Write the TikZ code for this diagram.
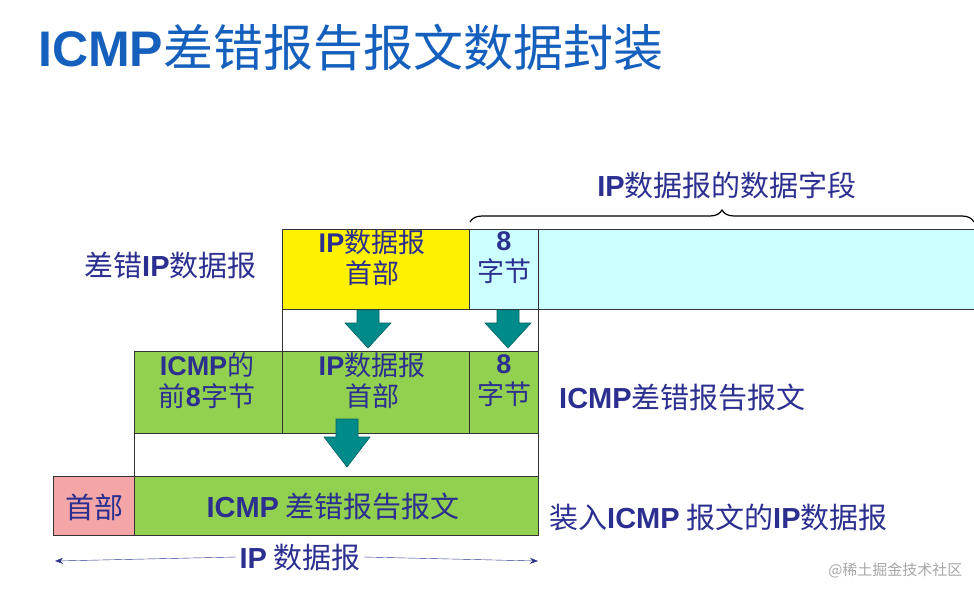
\documentclass[tikz,border=0pt]{standalone}
\usepackage{fontspec}
\setmainfont{Noto Sans CJK SC}
\newfontfamily\lat{Liberation Sans}
\newcommand\B[1]{{\lat\bfseries #1}}
\usetikzlibrary{decorations.pathreplacing,arrows.meta}
\definecolor{navy}{HTML}{2B2F8F}
\definecolor{titleblue}{HTML}{1560BD}
\definecolor{ygreen}{HTML}{92D050}
\definecolor{lcyan}{HTML}{CCFFFF}
\definecolor{pinkc}{HTML}{F4A6A6}
\definecolor{tealc}{HTML}{008B8B}
\tikzset{
 cell/.style={draw=black!80,line width=0.8pt},
 txt/.style={text=navy,font=\fontsize{29}{29}\selectfont,align=center,inner sep=0pt},
 cellt/.style={txt,font=\fontsize{27}{31}\selectfont},
 barrow/.style={draw=tealc!70!black,fill=tealc,line width=0.6pt},
}
\newcommand\blockarrow[4]{% x, ytop, shaftlen, headlen
 \draw[barrow] (#1-11,#2) -- (#1+11,#2) -- (#1+11,#2+#3) -- (#1+23,#2+#3) -- (#1,#2+#3+#4) -- (#1-23,#2+#3) -- (#1-11,#2+#3) -- cycle;}
\begin{document}
\begin{tikzpicture}[x=1pt,y=-1pt]
\useasboundingbox (0,0) rectangle (974,592);
\node[anchor=west,text=titleblue,inner sep=0pt,font=\fontsize{50}{50}\selectfont] (title) at (38,48) {\B{ICMP}差错报告报文数据封装};
% top row
\draw[cell,fill=yellow] (282,229) rectangle (469,309);
\draw[cell,fill=lcyan] (469,229) rectangle (538,309);
\draw[cell,fill=lcyan] (538,229) rectangle (980,309);
\draw[cell] (282,309) rectangle (538,351);
\node[cellt] (a1) at (372,258) {\B{IP}数据报\\首部};
\node[cellt] (a2) at (504,258) {\B{8}\\字节};
\node[txt,anchor=west] (l1) at (84,265) {差错\B{IP}数据报};
% middle row
\draw[cell,fill=ygreen] (134,351) rectangle (282,433);
\draw[cell,fill=ygreen] (282,351) rectangle (469,433);
\draw[cell,fill=ygreen] (469,351) rectangle (538,433);
\draw[cell] (134,433) rectangle (538,476);
\node[cellt] (b0) at (207,381) {\B{ICMP}的\\前\B{8}字节};
\node[cellt] (b1) at (372,381) {\B{IP}数据报\\首部};
\node[cellt] (b2) at (504,381) {\B{8}\\字节};
\node[txt,anchor=west] (l2) at (559,398) {\B{ICMP}差错报告报文};
% bottom row
\draw[cell,fill=pinkc] (53,476) rectangle (134,535);
\draw[cell,fill=ygreen] (134,476) rectangle (538,535);
\node[txt] (c0) at (94,507) {首部};
\node[txt] (c1) at (333,507) {\B{ICMP} 差错报告报文};
\node[txt,anchor=west] (l3) at (549,517) {装入\B{ICMP} 报文的\B{IP}数据报};
% arrows
\blockarrow{368}{310}{13}{25}
\blockarrow{508}{310}{13}{25}
\blockarrow{347}{419}{18}{30}
% brace
\coordinate (br1) at (470,222);
\coordinate (br2) at (974,222);
\draw[line width=1.2pt,decorate,decoration={brace,amplitude=12pt}] (br1) -- (br2);
\node[txt] (l4) at (727,185) {\B{IP}数据报的数据字段};
% IP datagram arrow
\node[txt,inner xsep=3pt] (l5) at (300,557) {\B{IP} 数据报};
\coordinate (e1) at (55,561);
\coordinate (e2) at (538,561);
\draw[navy,-{Stealth[length=8pt,width=6pt]}] (l5.west) -- (e1);
\draw[navy,-{Stealth[length=8pt,width=6pt]}] (l5.east) -- (e2);
\node[text=black!35,anchor=east,font=\fontsize{15}{15}\selectfont] (wm) at (966,570) {@稀土掘金技术社区};
\end{tikzpicture}
\end{document}
